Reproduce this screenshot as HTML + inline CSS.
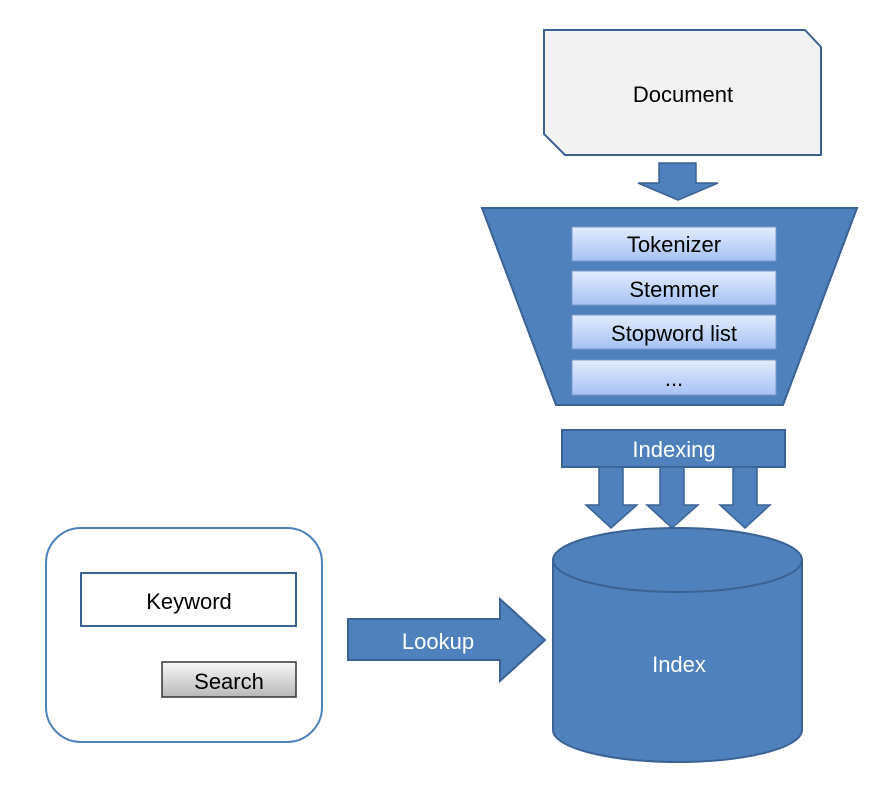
<!DOCTYPE html>
<html><head><meta charset="utf-8"><style>html,body{margin:0;padding:0;background:#fff}svg{display:block}text{font-family:"Liberation Sans",sans-serif}</style></head><body>
<svg width="871" height="790" viewBox="0 0 871 790" xmlns="http://www.w3.org/2000/svg">
<defs>
<linearGradient id="g1" x1="0" y1="0" x2="0" y2="1"><stop offset="0" stop-color="#e3ecfd"/><stop offset="1" stop-color="#a6c2f4"/></linearGradient>
<linearGradient id="g2" x1="0" y1="0" x2="0" y2="1"><stop offset="0" stop-color="#f8f8f8"/><stop offset="1" stop-color="#b8b8b8"/></linearGradient>
</defs>
<polygon points="544,30 805,30 821,47 821,155 565,155 544,134" fill="#f2f2f2" stroke="#3c6191" stroke-width="2"/>
<text x="683" y="102" font-size="22" text-anchor="middle" fill="#000">Document</text>
<polygon points="659,163 696,163 696,183 718,183 678,200 638,183 659,183" fill="#4f81bd" stroke="#3a6394" stroke-width="1.5"/>
<polygon points="482,208 857,208 783,405 556,405" fill="#4f81bd" stroke="#3a6394" stroke-width="2"/>
<g stroke="#7a98c8" stroke-width="1">
<rect x="572" y="227" width="204" height="34" fill="url(#g1)"/>
<rect x="572" y="271" width="204" height="34" fill="url(#g1)"/>
<rect x="572" y="315" width="204" height="34" fill="url(#g1)"/>
<rect x="572" y="360" width="204" height="35" fill="url(#g1)"/>
</g>
<g font-size="22" text-anchor="middle" fill="#000">
<text x="674" y="252">Tokenizer</text>
<text x="674" y="297">Stemmer</text>
<text x="674" y="341">Stopword list</text>
<text x="674" y="386">...</text>
</g>
<rect x="562" y="430" width="223" height="37" fill="#4f81bd" stroke="#3a6394" stroke-width="2"/>
<text x="674" y="457" font-size="22" text-anchor="middle" fill="#fff">Indexing</text>
<g fill="#4f81bd" stroke="#3a6394" stroke-width="1.5">
<polygon points="599,467 623,467 623,505 637,505 611,528 586,505 599,505"/>
<polygon points="660,467 684,467 684,505 698,505 672,528 647,505 660,505"/>
<polygon points="733,467 757,467 757,505 770,505 745,528 720,505 733,505"/>
</g>
<path d="M553,560 L553,730 A124.5,32 0 0 0 802,730 L802,560 A124.5,32 0 0 0 553,560 Z" fill="#4f81bd" stroke="#3a6394" stroke-width="2"/>
<path d="M553,560 A124.5,32 0 0 0 802,560" fill="none" stroke="#3a6394" stroke-width="2"/>
<text x="679" y="672" font-size="22" text-anchor="middle" fill="#fff">Index</text>
<rect x="46" y="528" width="276" height="214" rx="35" fill="#fff" stroke="#4f81bd" stroke-width="2"/>
<rect x="81" y="573" width="215" height="53" fill="#fff" stroke="#3a6394" stroke-width="2"/>
<text x="189" y="609" font-size="22" text-anchor="middle" fill="#000">Keyword</text>
<rect x="162" y="662" width="134" height="35" fill="url(#g2)" stroke="#333" stroke-width="1.5"/>
<text x="229" y="689" font-size="22" text-anchor="middle" fill="#000">Search</text>
<polygon points="348,619 500,619 500,599 545,640 500,681 500,660 348,660" fill="#4f81bd" stroke="#3a6394" stroke-width="2"/>
<text x="438" y="649" font-size="22" text-anchor="middle" fill="#fff">Lookup</text>
</svg>
</body></html>
